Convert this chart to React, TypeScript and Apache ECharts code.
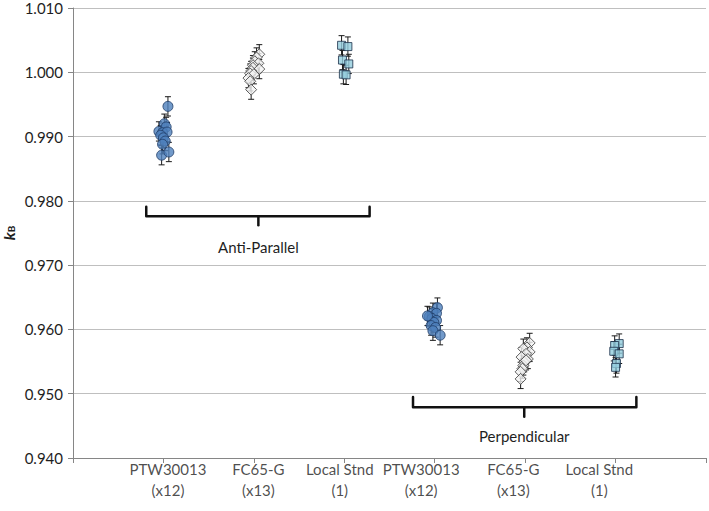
import React, { useEffect, useRef } from "react";
import * as echarts from "echarts";

// Category label texts and their x positions (value axis 0..7)
const xLabels = [
  "PTW30013\n(x12)",
  "FC65-G\n(x13)",
  "Local Stnd\n(1)",
  "PTW30013\n(x12)",
  "FC65-G\n(x13)",
  "Local Stnd\n(1)",
];
const labelX = [1.05, 2.05, 2.95, 3.85, 4.87, 5.82];

// [x, kB]
const ptwAP = [
  [1.05, 0.9947], [1.01, 0.992], [1.03, 0.9915], [0.95, 0.9908], [0.99, 0.9906], [1.04, 0.9907],
  [0.97, 0.9902], [1.0, 0.9898], [1.02, 0.9893], [0.99, 0.9888], [0.98, 0.9871], [1.06, 0.9876],
];
const fcAP = [
  [2.06, 1.0028], [2.03, 1.0023], [2.01, 1.0017], [2.05, 1.0014], [1.99, 1.0011], [1.99, 1.0007],
  [2.06, 1.0005], [1.97, 1.0002], [1.96, 0.9998], [2.0, 0.9997], [1.94, 0.9991], [1.96, 0.9986],
  [1.97, 0.9973],
];
const lsAP = [
  [2.97, 1.0042], [3.04, 1.004], [2.98, 1.0019], [3.05, 1.0013], [2.99, 0.9997], [3.02, 0.9996],
];
const ptwPe = [
  [4.03, 0.9634], [3.98, 0.9626], [4.02, 0.9625], [3.94, 0.962], [3.97, 0.9617], [4.02, 0.9614],
  [3.99, 0.9611], [3.96, 0.9606], [4.01, 0.9603], [3.98, 0.9598], [4.06, 0.9591], [3.92, 0.9621],
];
const fcPe = [
  [5.05, 0.9579], [5.02, 0.9572], [4.98, 0.957], [5.05, 0.9565], [5.01, 0.9562], [4.96, 0.9557],
  [5.03, 0.9554], [4.99, 0.9549], [4.98, 0.9544], [4.97, 0.9539], [5.01, 0.9552], [4.95, 0.9534],
  [4.95, 0.9523],
];
const lsPe = [
  [6.04, 0.9578], [5.99, 0.9575], [5.98, 0.9566], [6.04, 0.9562], [6.01, 0.9547], [6.0, 0.9541],
];
const errAP = 0.0015;
const errPe = 0.0015;

// Brackets: [xLeft, xRight, xMid, yTop, yBar, yTip, yText]
const bracketNames = ["Anti-Parallel", "Perpendicular"];
const brackets = [
  [0.81, 3.28, 2.05, 0.9791, 0.9776, 0.9762, 0.9728],
  [3.76, 6.23, 4.99, 0.9495, 0.9479, 0.9464, 0.9434],
];

const FONT = "Lato, 'Open Sans', sans-serif";
const TXT = "#1e1e1e";

function withErr(pts: number[][], e: number) {
  return pts.map((p) => [p[0], p[1], e]);
}

const errSeries = (pts: number[][], e: number) => ({
  type: "custom",
  z: 2,
  silent: true,
  data: withErr(pts, e),
  renderItem: (params: any, api: any) => {
    const x = api.value(0);
    const y = api.value(1);
    const er = api.value(2);
    const t = api.coord([x, y + er]);
    const b = api.coord([x, y - er]);
    const w = 3;
    const st = { stroke: "#1a1a1a", lineWidth: 1 };
    return {
      type: "group",
      children: [
        { type: "line", shape: { x1: t[0], y1: t[1], x2: b[0], y2: b[1] }, style: st },
        { type: "line", shape: { x1: t[0] - w, y1: t[1], x2: t[0] + w, y2: t[1] }, style: st },
        { type: "line", shape: { x1: b[0] - w, y1: b[1], x2: b[0] + w, y2: b[1] }, style: st },
      ],
    };
  },
});

const circleStyle = { color: "#4f81bd", borderColor: "#1f3c66", borderWidth: 1 };
const diamondStyle = { color: "#f4f4f4", borderColor: "#3a3a3a", borderWidth: 1 };
const squareStyle = { color: "#93cddd", borderColor: "#1b2f4a", borderWidth: 1 };

export default function App() {
  const ref = useRef<HTMLDivElement>(null);
  useEffect(() => {
    document.body.style.margin = "0";
    if (!ref.current) return;
    const chart = echarts.init(ref.current, undefined, { renderer: "svg" });
    const option: any = {
      animation: false,
      backgroundColor: "#ffffff",
      grid: { left: 73, right: 3, top: 8, bottom: 53, containLabel: false, outerBoundsMode: "none" },
      xAxis: {
        type: "value",
        min: 0,
        max: 7,
        interval: 1,
        axisLine: { show: true, lineStyle: { color: "#868686", width: 1 } },
        axisTick: { show: true, inside: false, length: 5, lineStyle: { color: "#868686" } },
        axisLabel: { show: false },
        splitLine: { show: false },
      },
      yAxis: {
        type: "value",
        min: 0.94,
        max: 1.01,
        interval: 0.01,
        name: "{k|k}{b|B}",
        nameLocation: "middle",
        nameGap: 57,
        nameRotate: 90,
        nameMoveOverlap: false,
        nameTextStyle: {
          rich: {
            k: { fontFamily: FONT, fontSize: 16, fontStyle: "italic", fontWeight: "bold", color: TXT },
            b: { fontFamily: FONT, fontSize: 10, fontWeight: "bold", color: TXT, verticalAlign: "bottom" },
          },
        },
        axisLine: { show: true, lineStyle: { color: "#868686", width: 1 } },
        axisTick: { show: true, inside: false, length: 5, lineStyle: { color: "#868686" } },
        axisLabel: {
          margin: 10,
          fontFamily: FONT,
          fontSize: 15,
          color: TXT,
          formatter: (v: number) => v.toFixed(3),
        },
        splitLine: { show: true, lineStyle: { color: "#bfbfbf", width: 1 } },
      },
      series: [
        errSeries(ptwAP, errAP),
        errSeries(fcAP, errAP),
        errSeries(lsAP, errAP),
        errSeries(ptwPe, errPe),
        errSeries(fcPe, errPe),
        errSeries(lsPe, errPe),
        { type: "scatter", z: 3, data: ptwAP, symbol: "circle", symbolSize: 10, itemStyle: circleStyle },
        { type: "scatter", z: 3, data: fcAP, symbol: "diamond", symbolSize: 11, itemStyle: diamondStyle },
        { type: "scatter", z: 3, data: lsAP, symbol: "rect", symbolSize: 8, itemStyle: squareStyle },
        { type: "scatter", z: 3, data: ptwPe, symbol: "circle", symbolSize: 10, itemStyle: circleStyle },
        { type: "scatter", z: 3, data: fcPe, symbol: "diamond", symbolSize: 11, itemStyle: diamondStyle },
        { type: "scatter", z: 3, data: lsPe, symbol: "rect", symbolSize: 8, itemStyle: squareStyle },
        {
          type: "scatter",
          silent: true,
          clip: false,
          symbolSize: 0,
          data: labelX.map((x, i) => ({ value: [x, 0.94], name: xLabels[i] })),
          label: {
            show: true,
            position: "bottom",
            distance: 0,
            formatter: (p: any) => p.name,
            fontFamily: FONT,
            fontSize: 15,
            lineHeight: 21,
            color: TXT,
            align: "center",
          },
        },
        {
          type: "custom",
          silent: true,
          clip: false,
          z: 4,
          data: brackets.map((b, i) => ({ value: b, name: bracketNames[i] })),
          renderItem: (params: any, api: any) => {
            const xl = api.value(0), xr = api.value(1), xm = api.value(2);
            const yt = api.value(3), yb = api.value(4), yp = api.value(5), ytx = api.value(6);
            const pLT = api.coord([xl, yt]);
            const pLB = api.coord([xl, yb]);
            const pM = api.coord([xm, yb]);
            const pTip = api.coord([xm, yp]);
            const pRB = api.coord([xr, yb]);
            const pRT = api.coord([xr, yt]);
            const pTx = api.coord([xm, ytx]);
            const st = { stroke: "#111", lineWidth: 2.5, fill: null, lineJoin: "round", lineCap: "round" };
            return {
              type: "group",
              children: [
                { type: "polyline", shape: { points: [pLT, pLB, pRB, pRT] }, style: st },
                { type: "line", shape: { x1: pM[0], y1: pM[1], x2: pTip[0], y2: pTip[1] }, style: st },
                {
                  type: "text",
                  x: pTx[0],
                  y: pTx[1],
                  style: {
                    text: bracketNames[params.dataIndex],
                    fontFamily: FONT,
                    fontSize: 15,
                    fill: TXT,
                    align: "center",
                    verticalAlign: "middle",
                  },
                },
              ],
            };
          },
        },
      ],
    };
    chart.setOption(option);
    return () => chart.dispose();
  }, []);
  return (
    <div
      ref={ref}
      style={{ position: "absolute", left: 0, top: 0, width: 709, height: 511 }}
    />
  );
}
